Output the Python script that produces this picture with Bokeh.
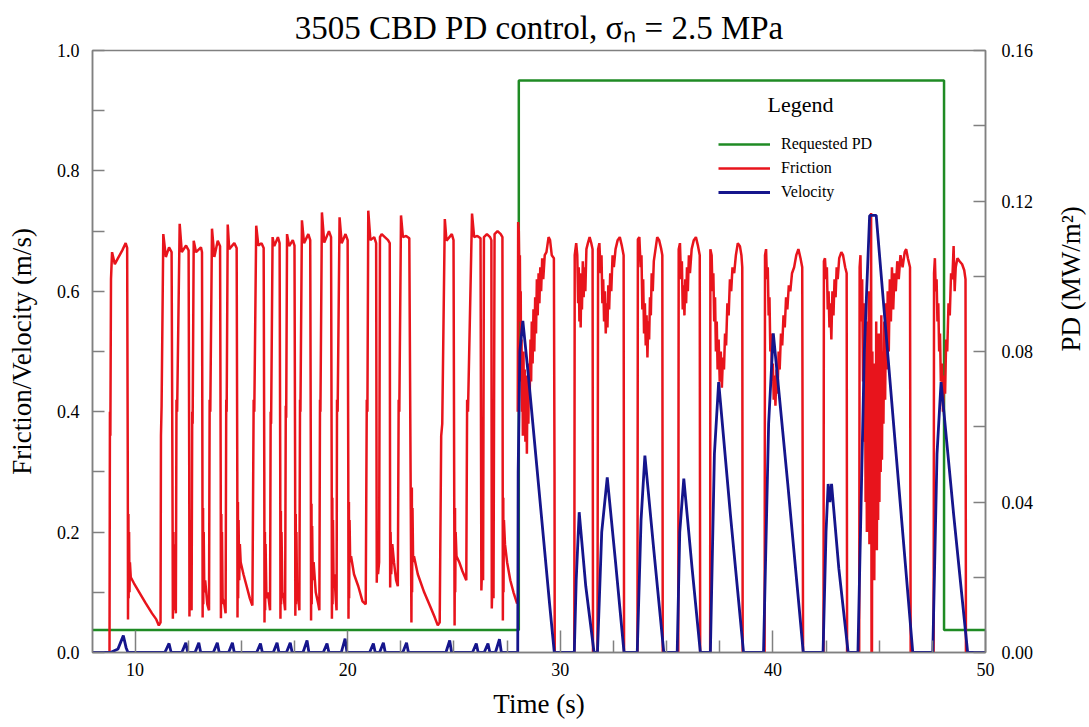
import math
from bokeh.plotting import figure
from bokeh.models import (Range1d, LinearAxis, FixedTicker, PrintfTickFormatter,
                          Legend, LegendItem, Label)
from bokeh.embed import file_html
from bokeh.resources import INLINE

FONT = "Liberation Serif"
RED = "#e8141c"
BLUE = "#15158c"
GREEN = "#1f8b24"
GRAY = "#808080"

# ---------------- data ----------------
# Requested PD (MW/m^2), step function
pd_t = [8.0, 28.05, 48.05, 50.0]
pd_v = [0.006, 0.152, 0.006, 0.006]

# Friction, first part (t < 28 s)
fric_a_t = [8.00, 8.80, 8.82, 8.84, 8.87, 8.92, 9.05, 9.20, 9.40, 9.56, 9.63, 9.66, 9.67, 9.69, 9.70, 9.72, 9.74, 9.76, 9.80, 9.95,
            10.20, 10.50, 10.80, 11.00, 11.12,
            11.20, 11.22, 11.25, 11.33, 11.45, 11.60, 11.72, 11.76, 11.78,
            11.80, 11.81, 11.83, 11.85, 11.88, 11.92,
            11.95, 11.98, 12.10, 12.20, 12.40, 12.52, 12.55, 12.56,
            12.58, 12.59, 12.61, 12.63, 12.66,
            12.69, 12.71, 12.76, 12.87, 13.10, 13.15, 13.17, 13.18,
            13.20, 13.21, 13.23, 13.26, 13.30, 13.40, 13.48,
            13.51, 13.54, 13.62, 13.73, 13.89, 14.00, 14.03, 14.04,
            14.06, 14.07, 14.09, 14.12, 14.20, 14.26,
            14.29, 14.31, 14.36, 14.43, 14.67, 14.78, 14.81, 14.82,
            14.84, 14.85, 14.87, 14.90, 14.93, 14.97, 15.10, 15.25, 15.40, 15.52,
            15.58, 15.61, 15.70, 15.80, 15.95, 16.05, 16.08, 16.09,
            16.11, 16.12, 16.14, 16.18, 16.25, 16.35,
            16.38, 16.40, 16.47, 16.55, 16.72, 16.80, 16.83, 16.84,
            16.86, 16.87, 16.89, 16.93, 17.00, 17.06,
            17.09, 17.11, 17.15, 17.25, 17.42, 17.50, 17.53, 17.54,
            17.56, 17.57, 17.59, 17.62, 17.68, 17.73,
            17.76, 17.78, 17.85, 17.95, 18.15, 18.24, 18.27, 18.28,
            18.30, 18.31, 18.33, 18.36, 18.40, 18.50, 18.62, 18.67,
            18.70, 18.72, 18.79, 18.90, 19.12, 19.22, 19.25, 19.26,
            19.28, 19.29, 19.31, 19.34, 19.38, 19.44, 19.48,
            19.50, 19.53, 19.62, 19.72, 19.90, 20.00, 20.03, 20.04,
            20.06, 20.07, 20.09, 20.12, 20.16, 20.30, 20.50, 20.70, 20.85,
            20.90, 20.93, 20.97, 21.07, 21.25, 21.34, 21.37, 21.40, 21.43, 21.48, 21.52, 21.60, 21.75, 21.90, 21.98, 22.00,
            22.02, 22.05, 22.10, 22.18, 22.28, 22.36,
            22.40, 22.43, 22.51, 22.60, 22.75, 22.90, 22.96, 23.00,
            23.02, 23.03, 23.05, 23.08, 23.12, 23.30, 23.60, 23.90, 24.10, 24.24,
            24.33, 24.40, 24.45, 24.57, 24.65, 24.90, 24.98, 25.01, 25.03,
            25.05, 25.06, 25.08, 25.12, 25.25, 25.40, 25.58,
            25.62, 25.66, 25.85, 25.95, 26.10, 26.25, 26.29,
            26.33, 26.37, 26.41, 26.55, 26.70, 26.76, 26.78,
            26.82, 26.86, 26.91, 27.05, 27.20, 27.28, 27.30,
            27.32, 27.33, 27.35, 27.40, 27.50, 27.65, 27.80, 27.97]
fric_a_v = [0.000, 0.000, 0.400, 0.360, 0.620, 0.665, 0.645, 0.655, 0.668, 0.680, 0.672, 0.300, 0.055, 0.230, 0.090, 0.200, 0.100, 0.150, 0.125, 0.115,
            0.100, 0.082, 0.065, 0.055, 0.045,
            0.050, 0.360, 0.410, 0.695, 0.657, 0.673, 0.665, 0.300, 0.056,
            0.200, 0.070, 0.180, 0.080, 0.120, 0.065,
            0.420, 0.400, 0.712, 0.665, 0.676, 0.668, 0.300, 0.060,
            0.220, 0.080, 0.190, 0.090, 0.070,
            0.400, 0.380, 0.684, 0.665, 0.673, 0.665, 0.300, 0.058,
            0.240, 0.080, 0.200, 0.100, 0.120, 0.080, 0.070,
            0.420, 0.400, 0.704, 0.657, 0.684, 0.675, 0.300, 0.057,
            0.230, 0.080, 0.200, 0.090, 0.080, 0.065,
            0.420, 0.400, 0.711, 0.670, 0.680, 0.672, 0.300, 0.058,
            0.250, 0.090, 0.220, 0.120, 0.180, 0.150, 0.130, 0.110, 0.090, 0.078,
            0.420, 0.400, 0.709, 0.676, 0.680, 0.672, 0.300, 0.050,
            0.200, 0.070, 0.180, 0.090, 0.100, 0.070,
            0.400, 0.380, 0.690, 0.675, 0.690, 0.680, 0.300, 0.056,
            0.235, 0.080, 0.200, 0.100, 0.090, 0.070,
            0.410, 0.390, 0.695, 0.675, 0.685, 0.676, 0.300, 0.061,
            0.230, 0.080, 0.200, 0.100, 0.090, 0.070,
            0.420, 0.400, 0.718, 0.680, 0.695, 0.685, 0.300, 0.053,
            0.247, 0.080, 0.210, 0.120, 0.150, 0.100, 0.080, 0.070,
            0.420, 0.400, 0.731, 0.681, 0.700, 0.690, 0.300, 0.056,
            0.257, 0.080, 0.220, 0.110, 0.130, 0.090, 0.070,
            0.420, 0.400, 0.723, 0.680, 0.695, 0.685, 0.300, 0.056,
            0.250, 0.090, 0.220, 0.150, 0.160, 0.130, 0.110, 0.085, 0.080,
            0.420, 0.400, 0.734, 0.685, 0.690, 0.680, 0.116, 0.200, 0.130, 0.150, 0.690, 0.695, 0.690, 0.685, 0.680, 0.108,
            0.200, 0.130, 0.180, 0.150, 0.120, 0.110,
            0.420, 0.400, 0.726, 0.690, 0.692, 0.688, 0.300, 0.050,
            0.274, 0.100, 0.240, 0.150, 0.160, 0.130, 0.100, 0.075, 0.058, 0.045,
            0.050, 0.360, 0.380, 0.720, 0.684, 0.695, 0.685, 0.300, 0.045,
            0.240, 0.100, 0.200, 0.160, 0.150, 0.135, 0.120,
            0.420, 0.400, 0.729, 0.690, 0.692, 0.688, 0.103,
            0.150, 0.120, 0.690, 0.695, 0.690, 0.685, 0.073,
            0.140, 0.090, 0.695, 0.700, 0.695, 0.690, 0.053,
            0.257, 0.100, 0.220, 0.180, 0.150, 0.120, 0.100, 0.081]

# Friction, second part (PD control on, t >= 28 s)
fric_b_t = [28.00, 28.02, 28.05, 28.08, 28.10, 28.12, 28.14, 28.16, 28.18, 28.20, 28.22, 28.24, 28.27, 28.30, 28.33, 28.36, 28.40,
            28.43, 28.46, 28.50, 28.53, 28.56, 28.60, 28.63, 28.66, 28.70, 28.74, 28.78, 28.82, 28.86, 28.90, 28.94, 28.98,
            29.02, 29.06, 29.10, 29.15, 29.20, 29.27, 29.35, 29.45, 29.52, 29.60, 29.70, 29.73, 29.74,
            30.66, 30.68, 30.75, 30.80, 30.84, 30.87, 30.90, 30.93, 30.96, 30.99, 31.02, 31.06, 31.10, 31.14, 31.18, 31.23,
            31.30, 31.38, 31.46, 31.52, 31.54,
            31.75, 31.78, 31.84, 31.90, 31.94, 31.98, 32.02, 32.06, 32.10, 32.14, 32.18, 32.22, 32.26, 32.30, 32.35, 32.40,
            32.46, 32.52, 32.60, 32.70, 32.80, 32.90, 32.98, 33.00,
            33.63, 33.65, 33.72, 33.78, 33.82, 33.86, 33.90, 33.94, 33.98, 34.02, 34.06, 34.10, 34.14, 34.18, 34.22, 34.26,
            34.30, 34.35, 34.40, 34.48, 34.56, 34.65, 34.75, 34.80, 34.82,
            35.55, 35.57, 35.63, 35.68, 35.72, 35.76, 35.80, 35.84, 35.88, 35.92, 35.96, 36.00, 36.05, 36.10, 36.18, 36.28,
            36.38, 36.48, 36.56, 36.58,
            37.05, 37.06, 37.12, 37.16, 37.20, 37.24, 37.28, 37.32, 37.36, 37.40, 37.45, 37.50, 37.55, 37.60, 37.65, 37.70,
            37.75, 37.80, 37.86, 37.92, 37.98, 38.04, 38.10, 38.18, 38.26, 38.35, 38.45, 38.52, 38.56, 38.58,
            39.61, 39.63, 39.68, 39.72, 39.76, 39.80, 39.84, 39.88, 39.92, 39.96, 40.00, 40.04, 40.08, 40.12, 40.17, 40.22,
            40.27, 40.32, 40.38, 40.44, 40.50, 40.56, 40.62, 40.68, 40.75, 40.82, 40.90, 41.00, 41.10, 41.20, 41.30, 41.38, 41.42,
            42.38, 42.40, 42.45, 42.50, 42.54, 42.58, 42.62, 42.66, 42.70, 42.75, 42.80, 42.85, 42.90, 42.95, 43.00, 43.05,
            43.12, 43.22, 43.30, 43.40, 43.47, 43.49,
            44.06, 44.08, 44.12, 44.16, 44.20, 44.24, 44.27, 44.30, 44.33, 44.36, 44.39, 44.42, 44.45, 44.48, 44.51, 44.54,
            44.57, 44.60, 44.62, 44.64, 44.66, 44.68, 44.71, 44.74, 44.77, 44.80, 44.83, 44.86, 44.89, 44.92, 44.95, 44.98,
            45.01, 45.04, 45.07, 45.10, 45.13, 45.16, 45.20, 45.24, 45.28, 45.32, 45.36, 45.40, 45.45, 45.50, 45.55, 45.60,
            45.66, 45.72, 45.78, 45.85, 45.92, 46.00, 46.10, 46.20, 46.27, 46.35, 46.45, 46.48,
            47.56, 47.58, 47.62, 47.66, 47.70, 47.74, 47.78, 47.82, 47.86, 47.90, 47.95, 48.00, 48.05, 48.10, 48.15, 48.20,
            48.26, 48.32, 48.38, 48.44, 48.50, 48.55, 48.60, 48.68, 48.78, 48.90, 49.00, 49.06, 49.08, 50.00]
fric_b_v = [0.400, 0.715, 0.700, 0.620, 0.660, 0.550, 0.600, 0.450, 0.520, 0.400, 0.480, 0.360, 0.500, 0.380, 0.470, 0.350, 0.460,
            0.330, 0.450, 0.380, 0.480, 0.420, 0.520, 0.450, 0.550, 0.480, 0.570, 0.500, 0.590, 0.530, 0.620, 0.560, 0.630,
            0.580, 0.640, 0.600, 0.655, 0.620, 0.660, 0.665, 0.690, 0.685, 0.660, 0.655, 0.300, 0.000,
            0.000, 0.660, 0.680, 0.660, 0.580, 0.640, 0.550, 0.630, 0.540, 0.620, 0.570, 0.650, 0.590, 0.640, 0.600, 0.670,
            0.680, 0.690, 0.680, 0.670, 0.000,
            0.000, 0.670, 0.680, 0.630, 0.660, 0.580, 0.620, 0.550, 0.600, 0.530, 0.580, 0.540, 0.610, 0.570, 0.630, 0.600,
            0.660, 0.640, 0.670, 0.685, 0.690, 0.675, 0.660, 0.000,
            0.000, 0.686, 0.690, 0.640, 0.660, 0.570, 0.620, 0.530, 0.580, 0.510, 0.560, 0.490, 0.550, 0.520, 0.590, 0.560,
            0.630, 0.600, 0.650, 0.670, 0.690, 0.685, 0.670, 0.660, 0.000,
            0.000, 0.670, 0.680, 0.620, 0.650, 0.570, 0.610, 0.560, 0.620, 0.580, 0.640, 0.600, 0.660, 0.630, 0.670, 0.685,
            0.690, 0.675, 0.660, 0.000,
            0.000, 0.670, 0.660, 0.600, 0.630, 0.550, 0.590, 0.500, 0.550, 0.470, 0.520, 0.450, 0.500, 0.440, 0.490, 0.470,
            0.530, 0.510, 0.580, 0.560, 0.620, 0.600, 0.640, 0.630, 0.660, 0.680, 0.675, 0.660, 0.640, 0.000,
            0.000, 0.660, 0.670, 0.620, 0.640, 0.560, 0.590, 0.500, 0.530, 0.450, 0.480, 0.420, 0.460, 0.410, 0.470, 0.430,
            0.500, 0.470, 0.530, 0.510, 0.560, 0.540, 0.590, 0.570, 0.610, 0.600, 0.630, 0.640, 0.660, 0.670, 0.655, 0.640, 0.000,
            0.000, 0.650, 0.655, 0.620, 0.640, 0.570, 0.600, 0.540, 0.580, 0.520, 0.600, 0.560, 0.620, 0.590, 0.640, 0.620,
            0.655, 0.665, 0.660, 0.640, 0.630, 0.000,
            0.000, 0.640, 0.660, 0.550, 0.620, 0.450, 0.580, 0.350, 0.550, 0.250, 0.500, 0.200, 0.550, 0.300, 0.600, 0.180,
            0.520, 0.250, 0.730, 0.000, 0.000, 0.500, 0.150, 0.480, 0.120, 0.420, 0.200, 0.550, 0.170, 0.500, 0.220, 0.530,
            0.250, 0.480, 0.300, 0.560, 0.320, 0.500, 0.380, 0.550, 0.420, 0.580, 0.470, 0.600, 0.500, 0.620, 0.550, 0.640,
            0.570, 0.630, 0.600, 0.650, 0.620, 0.660, 0.640, 0.665, 0.670, 0.655, 0.640, 0.000,
            0.000, 0.630, 0.655, 0.600, 0.620, 0.550, 0.580, 0.500, 0.530, 0.450, 0.480, 0.400, 0.460, 0.430, 0.520, 0.500,
            0.580, 0.560, 0.630, 0.620, 0.675, 0.600, 0.640, 0.655, 0.650, 0.645, 0.635, 0.620, 0.000, 0.000]

# Velocity (m/s)
vel_t = [8.00, 8.85, 9.20, 9.45, 9.58, 9.67,
         11.40, 11.60, 11.70, 12.20, 12.39, 12.48, 12.82, 13.00, 13.09, 13.68, 13.87, 13.96, 14.40, 14.58, 14.67,
         15.72, 15.90, 15.99, 16.50, 16.68, 16.77, 17.12, 17.30, 17.39, 17.90, 18.09, 18.18, 18.85, 19.03, 19.12,
         19.70, 19.88, 19.97, 21.03, 21.21, 21.30, 21.50, 21.68, 21.77, 22.59, 22.77, 22.86, 24.62, 24.80, 24.89,
         25.87, 26.05, 26.14, 26.42, 26.60, 26.69, 26.95, 27.14, 27.23,
         28.00, 28.02, 28.10, 28.24, 28.50, 29.00, 29.50, 29.72,
         30.66, 30.75, 30.89, 31.20, 31.59, 31.75, 31.95, 32.21, 32.60, 33.00,
         33.62, 33.80, 33.98, 34.40, 34.87, 35.50, 35.62, 35.81, 36.20, 36.59,
         37.06, 37.25, 37.45, 38.00, 38.62, 39.56, 39.80, 40.02, 40.70, 41.43,
         42.36, 42.50, 42.60, 42.68, 42.76, 43.10, 43.54,
         44.00, 44.30, 44.55, 44.86, 45.70, 46.58, 47.52, 47.72, 47.91, 48.50, 49.16, 50.00]
vel_v = [0.000, 0.000, 0.006, 0.028, 0.008, 0.000,
         0.000, 0.015, 0.000, 0.000, 0.016, 0.000, 0.000, 0.016, 0.000, 0.000, 0.016, 0.000, 0.000, 0.016, 0.000,
         0.000, 0.015, 0.000, 0.000, 0.016, 0.000, 0.000, 0.016, 0.000, 0.000, 0.020, 0.000, 0.000, 0.015, 0.000,
         0.000, 0.023, 0.000, 0.000, 0.015, 0.000, 0.000, 0.016, 0.000, 0.000, 0.016, 0.000, 0.000, 0.020, 0.000,
         0.000, 0.015, 0.000, 0.000, 0.015, 0.000, 0.000, 0.022, 0.000,
         0.000, 0.300, 0.500, 0.551, 0.460, 0.270, 0.080, 0.000,
         0.000, 0.120, 0.233, 0.110, 0.000, 0.000, 0.200, 0.291, 0.150, 0.000,
         0.000, 0.220, 0.327, 0.170, 0.000, 0.000, 0.200, 0.289, 0.140, 0.000,
         0.000, 0.330, 0.449, 0.230, 0.000, 0.000, 0.380, 0.530, 0.280, 0.000,
         0.000, 0.200, 0.280, 0.250, 0.280, 0.140, 0.000,
         0.000, 0.500, 0.726, 0.726, 0.370, 0.000, 0.000, 0.330, 0.449, 0.230, 0.000, 0.000]

# axis ticks
x_major = [10, 20, 30, 40, 50]
x_minor = [12.5, 15, 17.5, 22.5, 25, 27.5, 32.5, 35, 37.5, 42.5, 45, 47.5]
y_major = [0.0, 0.2, 0.4, 0.6, 0.8, 1.0]
y_minor = [0.1, 0.3, 0.5, 0.7, 0.9]
pd_major = [0.0, 0.04, 0.08, 0.12, 0.16]
pd_minor = [0.02, 0.06, 0.10, 0.14]

# ---------------- figure ----------------
p = figure(frame_width=893, frame_height=602,
           x_range=Range1d(8, 50), y_range=Range1d(0, 1.0),
           output_backend="svg", toolbar_location=None,
           min_border_left=92, min_border_right=104, min_border_top=50, min_border_bottom=75,
           background_fill_color="white", border_fill_color="white",
           title="3505 CBD PD control, σₙ = 2.5 MPa")
p.title.align = "center"
p.title.text_font = FONT
p.title.text_font_size = "33px"
p.title.text_font_style = "normal"
p.title.text_color = "black"
p.title.standoff = 10

p.extra_y_ranges = {"pd": Range1d(0, 0.16)}
p.xgrid.visible = False
p.ygrid.visible = False
p.outline_line_color = GRAY
p.outline_line_width = 1.5

def style_axis(ax, major_in, minor_in):
    ax.axis_line_color = GRAY
    ax.axis_line_width = 1.5
    ax.major_tick_line_color = GRAY
    ax.minor_tick_line_color = GRAY
    ax.major_tick_line_width = 1.5
    ax.minor_tick_line_width = 1.5
    ax.major_tick_in = major_in
    ax.major_tick_out = 0
    ax.minor_tick_in = minor_in
    ax.minor_tick_out = 0
    ax.major_label_text_font = FONT
    ax.major_label_text_font_size = "18px"
    ax.major_label_text_color = "black"
    ax.axis_label_text_font = FONT
    ax.axis_label_text_font_size = "27px"
    ax.axis_label_text_font_style = "normal"
    ax.axis_label_text_color = "black"

xax = p.xaxis[0]
xax.ticker = FixedTicker(ticks=x_major, minor_ticks=x_minor)
xax.axis_label = "Time (s)"
style_axis(xax, 22, 12)
xax.major_label_standoff = 10
xax.axis_label_standoff = 10

yax = p.yaxis[0]
yax.ticker = FixedTicker(ticks=y_major, minor_ticks=y_minor)
yax.formatter = PrintfTickFormatter(format="%.1f")
yax.axis_label = "Friction/Velocity (m/s)"
style_axis(yax, 12, 12)
yax.major_label_standoff = 13
yax.axis_label_standoff = 17

rax = LinearAxis(y_range_name="pd")
rax.ticker = FixedTicker(ticks=pd_major, minor_ticks=pd_minor)
rax.formatter = PrintfTickFormatter(format="%.2f")
rax.axis_label = "PD (MW/m²)"
style_axis(rax, 12, 12)
rax.axis_label_orientation = math.pi / 2
rax.major_label_standoff = 16
rax.axis_label_standoff = 35
p.add_layout(rax, "right")

# ---------------- glyphs ----------------
g_pd = p.step(x=pd_t, y=pd_v, mode="after", y_range_name="pd",
              line_color=GREEN, line_width=2.5)
r_fa = p.line(x=fric_a_t, y=fric_a_v, line_color=RED, line_width=2.5)
r_fb = p.line(x=fric_b_t, y=fric_b_v, line_color=RED, line_width=2.5)
b_v = p.line(x=vel_t, y=vel_v, line_color=BLUE, line_width=2.8)

legend = Legend(items=[LegendItem(label="Requested PD", renderers=[g_pd]),
                       LegendItem(label="Friction", renderers=[r_fa]),
                       LegendItem(label="Velocity", renderers=[b_v])],
                location=(626, 450), padding=0, margin=0, spacing=4,
                glyph_width=52, glyph_height=20, label_height=20, label_standoff=11,
                label_text_font=FONT, label_text_font_size="16px", label_text_color="black",
                border_line_alpha=0, background_fill_alpha=0)
p.add_layout(legend)

p.add_layout(Label(x=41.3, y=0.889, text="Legend", text_align="center",
                   text_font=FONT, text_font_size="22px", text_color="black"))

open("out.html", "w").write(file_html(p, INLINE))
